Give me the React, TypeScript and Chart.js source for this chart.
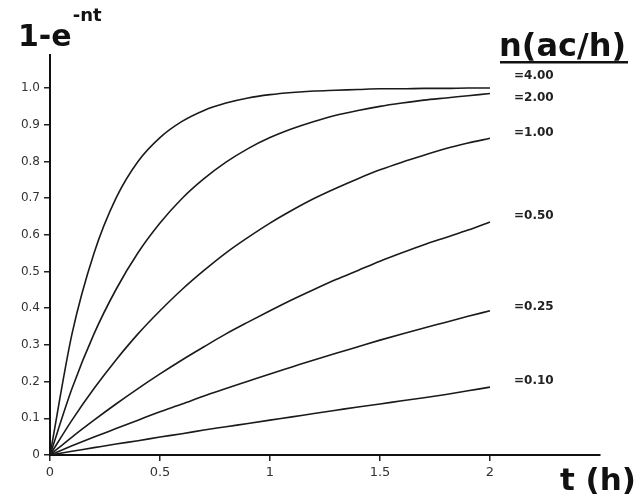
import React, { useEffect, useRef } from "react";
import { Chart, registerables } from "chart.js";

Chart.register(...registerables);

const tValues = [0, 0.1, 0.2, 0.3, 0.4, 0.5, 0.6, 0.7, 0.8, 0.9, 1.0, 1.1, 1.2, 1.3, 1.4, 1.5, 1.6, 1.7, 1.8, 1.9, 2.0];
const nLabels = ["=4.00", "=2.00", "=1.00", "=0.50", "=0.25", "=0.10"];
const n400 = [0, 0.33, 0.55, 0.70, 0.80, 0.865, 0.909, 0.939, 0.959, 0.973, 0.982, 0.988, 0.992, 0.994, 0.996, 0.998, 0.998, 0.999, 0.999, 1.0, 1.0];
const n200 = [0, 0.181, 0.330, 0.451, 0.551, 0.632, 0.699, 0.753, 0.798, 0.835, 0.865, 0.889, 0.909, 0.926, 0.939, 0.950, 0.959, 0.967, 0.973, 0.979, 0.985];
const n100 = [0, 0.095, 0.181, 0.259, 0.330, 0.393, 0.451, 0.503, 0.551, 0.593, 0.632, 0.667, 0.699, 0.727, 0.753, 0.777, 0.798, 0.817, 0.835, 0.850, 0.863];
const n050 = [0, 0.049, 0.095, 0.139, 0.181, 0.221, 0.259, 0.295, 0.330, 0.362, 0.393, 0.423, 0.451, 0.478, 0.503, 0.528, 0.551, 0.573, 0.593, 0.613, 0.635];
const n025 = [0, 0.025, 0.049, 0.072, 0.095, 0.118, 0.139, 0.161, 0.181, 0.201, 0.221, 0.240, 0.259, 0.277, 0.295, 0.313, 0.330, 0.346, 0.362, 0.378, 0.393];
const n010 = [0, 0.010, 0.020, 0.030, 0.039, 0.049, 0.058, 0.068, 0.077, 0.086, 0.095, 0.104, 0.113, 0.122, 0.131, 0.139, 0.148, 0.156, 0.165, 0.175, 0.185];
const seriesValues = [n400, n200, n100, n050, n025, n010];
// label anchor heights (data units) for the right-side n labels
const labelYs = [1.035, 0.975, 0.88, 0.655, 0.405, 0.205];
const xTickLabels = ["0", "0.5", "1", "1.5", "2"];
const yTickLabels = ["0", "0.1", "0.2", "0.3", "0.4", "0.5", "0.6", "0.7", "0.8", "0.9", "1.0"];

const FONT = "'DejaVu Sans', sans-serif";

const annotations = {
  id: "annotations",
  afterDraw(chart: any) {
    const ctx = chart.ctx;
    const xs = chart.scales.x;
    const ys = chart.scales.y;
    ctx.save();
    ctx.fillStyle = "#222";
    ctx.textBaseline = "alphabetic";
    // series labels
    ctx.font = `bold 12px ${FONT}`;
    ctx.textAlign = "left";
    const lx = xs.getPixelForValue(2) + 24;
    nLabels.forEach((lab, i) => {
      ctx.fillText(lab, lx, ys.getPixelForValue(labelYs[i]) + 4);
    });
    // y title
    ctx.fillStyle = "#111";
    ctx.font = `bold 30px ${FONT}`;
    ctx.fillText("1-e", 18, 46);
    const w = ctx.measureText("1-e").width;
    ctx.font = `bold 18px ${FONT}`;
    ctx.fillText("-nt", 18 + w + 1, 21);
    // legend title
    ctx.font = `bold 32px ${FONT}`;
    ctx.fillText("n(ac/h)", 499, 56);
    ctx.fillRect(500, 61, 128, 2.5);
    // x title
    ctx.font = `bold 31px ${FONT}`;
    ctx.fillText("t (h)", 560, 490);
    ctx.restore();
  },
};

export default function App() {
  const ref = useRef<HTMLCanvasElement>(null);
  useEffect(() => {
    if (!ref.current) return;
    const datasets = seriesValues.map((vals, i) => ({
      label: nLabels[i],
      data: vals.map((v, k) => ({ x: tValues[k], y: v })),
      borderColor: "#1a1a1a",
      borderWidth: 1.6,
      pointRadius: 0,
      fill: false,
      showLine: true,
      cubicInterpolationMode: "monotone" as const,
    }));
    const chart = new Chart(ref.current, {
      type: "line",
      data: { datasets },
      plugins: [annotations],
      options: {
        animation: false,
        responsive: false,
        layout: { padding: { top: 55, right: 42, left: 0, bottom: 0 } },
        plugins: { legend: { display: false }, tooltip: { enabled: false } },
        scales: {
          x: {
            type: "linear",
            min: 0,
            max: 2.5,
            afterBuildTicks: (s: any) => {
              s.ticks = s.ticks.filter((t: any) => t.value <= 2.0001);
            },
            afterFit: (s: any) => {
              s.height = 43;
            },
            ticks: {
              stepSize: 0.5,
              includeBounds: false,
              color: "#333",
              font: { family: FONT, size: 13 },
              padding: 4,
              maxRotation: 0,
              callback: (v: any) => {
                const idx = Math.round(Number(v) / 0.5);
                return xTickLabels[idx] ?? "";
              },
            },
            grid: { drawOnChartArea: false, drawTicks: true, tickLength: 6, color: "#222", lineWidth: 1.5 },
            border: { display: true, color: "#111", width: 2 },
          },
          y: {
            type: "linear",
            min: 0,
            max: 1.09,
            afterBuildTicks: (s: any) => {
              s.ticks = s.ticks.filter((t: any) => t.value <= 1.0001);
            },
            afterFit: (s: any) => {
              s.width = 50;
            },
            ticks: {
              stepSize: 0.1,
              includeBounds: false,
              color: "#333",
              font: { family: FONT, size: 12 },
              padding: 4,
              callback: (v: any) => {
                const idx = Math.round(Number(v) * 10);
                return yTickLabels[idx] ?? "";
              },
            },
            grid: { drawOnChartArea: false, drawTicks: true, tickLength: 6, color: "#222", lineWidth: 1.5 },
            border: { display: true, color: "#111", width: 2 },
          },
        },
      },
    });
    return () => chart.destroy();
  }, []);
  return (
    <div style={{ position: "fixed", left: 0, top: 0, width: 642, height: 498, background: "#fff" }}>
      <canvas ref={ref} width={642} height={498} style={{ width: 642, height: 498, display: "block" }} />
    </div>
  );
}
